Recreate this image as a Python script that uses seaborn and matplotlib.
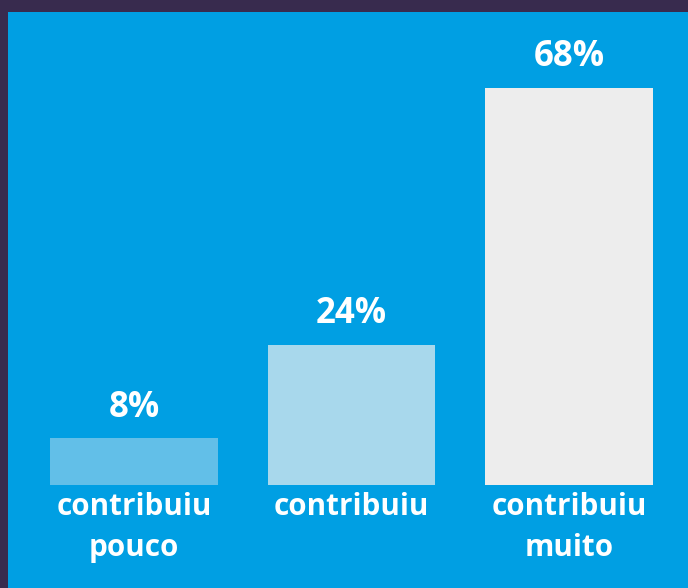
import matplotlib.pyplot as plt
import seaborn as sns
import pandas as pd

# dados
categorias = ["contribuiu\npouco", "contribuiu", "contribuiu\nmuito"]
valores = [8, 24, 68]
rotulos = ["8%", "24%", "68%"]
cores = ["#62BFE8", "#A8D8EC", "#EDEDED"]

df = pd.DataFrame({"categoria": categorias, "valor": valores})

plt.rcParams['font.family'] = ['Open Sans', 'DejaVu Sans']

fig = plt.figure(figsize=(6.88, 5.88), dpi=100, facecolor="#382B4E")
ax = fig.add_axes([8 / 688, 0, 680 / 688, 576 / 588])
ax.set_facecolor("#009FE3")

sns.barplot(data=df, x="categoria", y="valor", hue="categoria",
            palette=cores, width=0.772, saturation=1, legend=False, ax=ax)

for cont, lab in zip(ax.containers, rotulos):
    ax.bar_label(cont, labels=[lab], padding=9, color="white",
                 fontsize=25, fontweight="bold")

# rótulos das categorias dentro da área (abaixo da base)
for i, cat in enumerate(categorias):
    ax.annotate(cat, (i, 0), xytext=(0, -5), textcoords="offset points",
                ha="center", va="top", color="white", fontsize=21.3,
                fontweight="bold", linespacing=1.47)

ax.set_xlim(-0.579, 2.547)
ax.set_ylim(-17.64, 81.0)
ax.set_xlabel("")
ax.set_ylabel("")
ax.set_xticks([])
ax.set_yticks([])
for s in ax.spines.values():
    s.set_visible(False)

plt.savefig("out.png", dpi=100, facecolor=fig.get_facecolor())
